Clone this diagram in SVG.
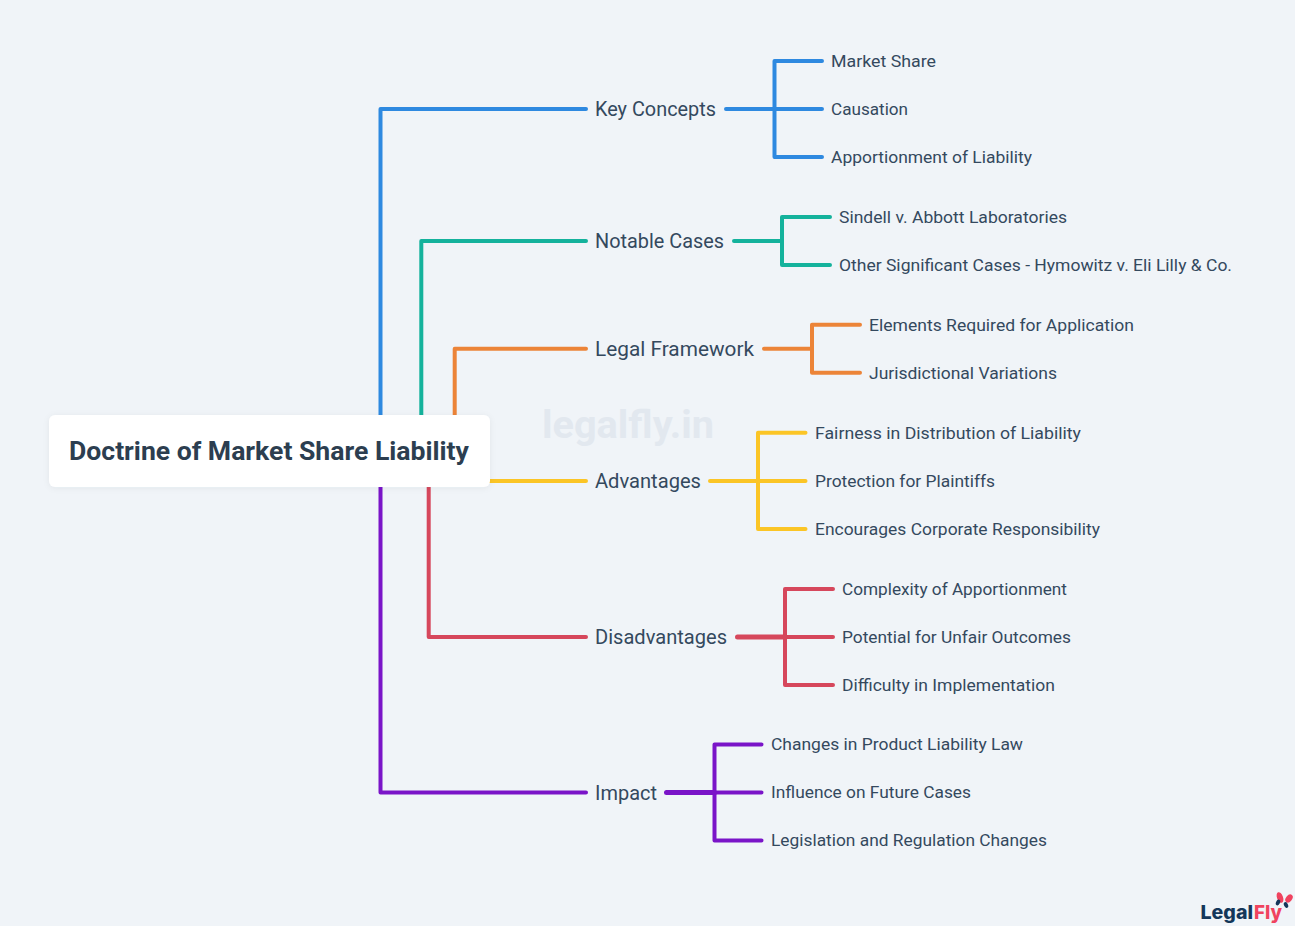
<svg xmlns="http://www.w3.org/2000/svg" width="1295" height="926" viewBox="0 0 1295 926">
<defs><filter id="soft" x="-5%" y="-20%" width="110%" height="140%"><feDropShadow dx="0" dy="1" stdDeviation="3" flood-color="#2c3e50" flood-opacity="0.06"/></filter></defs>
<style>
text{font-family:"Roboto","Liberation Sans",sans-serif;fill:#34495e;dominant-baseline:central}
.b{font-size:21px}
.l{font-size:16.5px}
.r{font-size:25.5px;font-weight:700;fill:#2c3e50}
.c{fill:none;stroke-width:4;stroke-linecap:round;stroke-linejoin:round}
.t{stroke-width:5}
.blue{stroke:#2e89e0}.teal{stroke:#14b29c}.orange{stroke:#ec8438}.yellow{stroke:#fbc526}.red{stroke:#d6475c}.purple{stroke:#7a14c8}
</style>
<rect width="1295" height="926" fill="#f0f4f8"/>
<text x="628" y="425" text-anchor="middle" style="font-size:38px;font-weight:700;fill:#e2e8ef" textLength="172" lengthAdjust="spacingAndGlyphs">legalfly.in</text>
<g id="connectors">
<path class="c blue" d="M380.5 451V109H586M726 109H774.5M774.5 61H822M774.5 157H822M774.5 109H822M774.5 61V157"/>
<path class="c teal" d="M421.3 451V241H586M734 241H782M782 217H830M782 265H830M782 217V265"/>
<path class="c orange" d="M454.7 451V348.7H586M764 348.7H812M812 324.7H860M812 372.7H860M812 324.7V372.7"/>
<path class="c yellow" d="M470 481H586M710 481H758M758 432.8H805.5M758 481H805.5M758 529H805.5M758 432.8V529"/>
<path class="c red" d="M428.7 451V637H586M785 589H833M785 637H833M785 685H833M785 589V685"/>
<path class="c red t" d="M737.5 637H785"/>
<path class="c purple" d="M380.5 451V792.5H586M714.5 744.5H761.5M714.5 792.5H761.5M714.5 840.5H761.5M714.5 744.5V840.5"/>
<path class="c purple t" d="M666.5 792.5H714.5"/>
</g>
<g id="root"><rect x="49" y="415" width="441" height="72" rx="6" fill="#fff" filter="url(#soft)"/><text class="r" x="69" y="451" textLength="400" lengthAdjust="spacingAndGlyphs">Doctrine of Market Share Liability</text></g>
<g id="key-concepts"><text class="b" x="595" y="109" textLength="121" lengthAdjust="spacingAndGlyphs">Key Concepts</text></g>
<g id="market-share"><text class="l" x="831" y="61" textLength="105" lengthAdjust="spacingAndGlyphs">Market Share</text></g>
<g id="causation"><text class="l" x="831" y="109" textLength="77" lengthAdjust="spacingAndGlyphs">Causation</text></g>
<g id="apportionment"><text class="l" x="831" y="157" textLength="201" lengthAdjust="spacingAndGlyphs">Apportionment of Liability</text></g>
<g id="notable-cases"><text class="b" x="595" y="241" textLength="129" lengthAdjust="spacingAndGlyphs">Notable Cases</text></g>
<g id="sindell"><text class="l" x="839" y="217" textLength="228" lengthAdjust="spacingAndGlyphs">Sindell v. Abbott Laboratories</text></g>
<g id="other-cases"><text class="l" x="839" y="265" textLength="393" lengthAdjust="spacingAndGlyphs">Other Significant Cases - Hymowitz v. Eli Lilly &amp; Co.</text></g>
<g id="legal-framework"><text class="b" x="595" y="349" textLength="159" lengthAdjust="spacingAndGlyphs">Legal Framework</text></g>
<g id="elements"><text class="l" x="869" y="325" textLength="265" lengthAdjust="spacingAndGlyphs">Elements Required for Application</text></g>
<g id="jurisdictional"><text class="l" x="869" y="373" textLength="188" lengthAdjust="spacingAndGlyphs">Jurisdictional Variations</text></g>
<g id="advantages"><text class="b" x="595" y="481" textLength="106" lengthAdjust="spacingAndGlyphs">Advantages</text></g>
<g id="fairness"><text class="l" x="815" y="433" textLength="266" lengthAdjust="spacingAndGlyphs">Fairness in Distribution of Liability</text></g>
<g id="protection"><text class="l" x="815" y="481" textLength="180" lengthAdjust="spacingAndGlyphs">Protection for Plaintiffs</text></g>
<g id="encourages"><text class="l" x="815" y="529" textLength="285" lengthAdjust="spacingAndGlyphs">Encourages Corporate Responsibility</text></g>
<g id="disadvantages"><text class="b" x="595" y="637" textLength="132" lengthAdjust="spacingAndGlyphs">Disadvantages</text></g>
<g id="complexity"><text class="l" x="842" y="589" textLength="225" lengthAdjust="spacingAndGlyphs">Complexity of Apportionment</text></g>
<g id="unfair"><text class="l" x="842" y="637" textLength="229" lengthAdjust="spacingAndGlyphs">Potential for Unfair Outcomes</text></g>
<g id="difficulty"><text class="l" x="842" y="685" textLength="213" lengthAdjust="spacingAndGlyphs">Difficulty in Implementation</text></g>
<g id="impact"><text class="b" x="595" y="792.5" textLength="62" lengthAdjust="spacingAndGlyphs">Impact</text></g>
<g id="changes"><text class="l" x="771" y="744.5" textLength="252" lengthAdjust="spacingAndGlyphs">Changes in Product Liability Law</text></g>
<g id="influence"><text class="l" x="771" y="792.5" textLength="200" lengthAdjust="spacingAndGlyphs">Influence on Future Cases</text></g>
<g id="legislation"><text class="l" x="771" y="840.5" textLength="276" lengthAdjust="spacingAndGlyphs">Legislation and Regulation Changes</text></g>
<g id="logo">
<text x="1200.5" y="912" style="font-family:'Inter','Liberation Sans',sans-serif;font-size:19px;font-weight:800;fill:#14375a" textLength="52.5" lengthAdjust="spacingAndGlyphs">Legal</text>
<text x="1254" y="912" style="font-family:'Inter','Liberation Sans',sans-serif;font-size:19px;font-weight:800;fill:#f0435f" textLength="28" lengthAdjust="spacingAndGlyphs">Fly</text>
<ellipse cx="1280" cy="897.5" rx="3" ry="5.5" transform="rotate(-20 1280 897.5)" fill="#f0435f"/>
<ellipse cx="1289" cy="898.5" rx="3" ry="4.5" transform="rotate(40 1289 898.5)" fill="#f0435f"/>
<ellipse cx="1278" cy="902.5" rx="2" ry="3" transform="rotate(25 1278 902.5)" fill="#14375a"/>
<ellipse cx="1286" cy="905" rx="2" ry="3" transform="rotate(-25 1286 905)" fill="#14375a"/>
</g>
</svg>
